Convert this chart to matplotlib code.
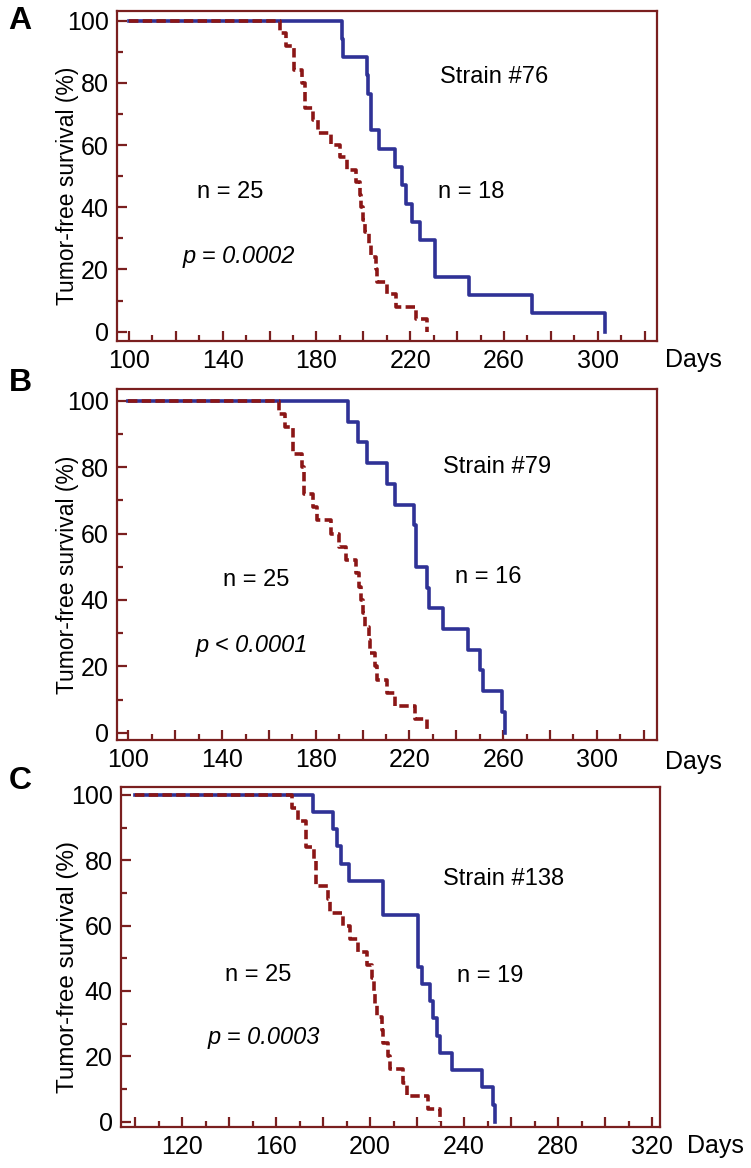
import matplotlib
matplotlib.use('Agg')
import matplotlib.pyplot as plt

plt.rcParams['font.family'] = ['Liberation Sans', 'DejaVu Sans']

# control group (n = 25), dashed red; event days and survival level after each step
ctrl_days = [164.4, 167, 170.4, 174, 175, 178.6, 180.7, 186.4, 190, 193, 197, 198.5,
             199.2, 200, 200.8, 202.5, 203.3, 205.3, 206, 210.3, 213.8, 222.3, 227.3]
ctrl_surv = [96, 92, 84, 80, 72, 68, 64, 60, 56, 52, 48, 44,
             40, 36, 32, 28, 24, 20, 16, 12, 8, 4, 0]
ctrl_days_c = [166.7, 169.5, 172.8, 176.3, 177, 182.3, 183, 188.6, 191.5, 195, 198.6, 200.7,
               201.5, 202.3, 203, 205, 205.7, 207.5, 208.5, 214.2, 215.6, 224.8, 229.8]

# strain curves, solid blue
s76_days = [190.7, 191.4, 201.4, 202.1, 203.2, 206.5, 213.7, 216.7, 218.1, 220.7,
            224.2, 230.6, 245, 271.8, 303.3]
s76_surv = [94.1, 88.2, 82.4, 76.5, 64.7, 58.8, 52.9, 47.1, 41.2, 35.3,
            29.4, 17.6, 11.8, 5.9, 0]
s79_days = [193.9, 197.9, 201.7, 210.2, 213.8, 222, 222.7, 227.5, 228.5, 234.4,
            245, 250, 251.5, 259.3, 261]
s79_surv = [93.75, 87.5, 81.25, 75, 68.75, 62.5, 50, 43.75, 37.5, 31.25,
            25, 18.75, 12.5, 6.25, 0]
s138_days = [175.9, 184.1, 185.8, 187.5, 191.2, 205.7, 220.5, 222, 225.5, 227,
             228.4, 229.8, 234.8, 247.5, 252.5, 253.2]
s138_surv = [94.7, 89.5, 84.2, 78.9, 73.7, 63.2, 47.4, 42.1, 36.8, 31.6,
             26.3, 21.05, 15.8, 10.5, 5.26, 0]

panels = ['A', 'B', 'C']
strain_names = ['Strain #76', 'Strain #79', 'Strain #138']
strain_n = ['n = 18', 'n = 16', 'n = 19']
p_texts = ['p = 0.0002', 'p < 0.0001', 'p = 0.0003']
xtick_labels = [[100, 140, 180, 220, 260, 300],
                [100, 140, 180, 220, 260, 300],
                [120, 160, 200, 240, 280, 320]]

blue = '#2f3296'
red = '#8b1616'
frame = '#7a1f1f'

W, H = 751, 1168
fig = plt.figure(figsize=(W / 100, H / 100), dpi=100)

# pixel boxes (left, top, right, bottom) and limits
boxes = [(117, 11, 657, 341), (117, 389, 657, 740), (121, 787, 660, 1127)]
xlims = [(94.9, 325.3), (95.1, 325.7), (94.0, 323.4)]
ylims = [(-3.0, 103.1), (-2.2, 103.6), (-1.6, 102.4)]
letter_y = [21, 383, 781]
days_xy = [(693, 360), (693, 762), (715, 1146)]
ylabel_size = [16.5, 16.5, 17.5]

# text positions (data coords)
strain_xy = [(256, 82), (257.6, 80), (257, 74.3)]
sn_xy = [(246, 45), (253.6, 47), (251, 44.7)]
cn_xy = [(143.4, 44.8), (154.6, 45.9), (152.3, 44.9)]
p_xy = [(147, 24.1), (152.6, 26.4), (154.6, 25.8)]

curves = [(s76_days, s76_surv, ctrl_days),
          (s79_days, s79_surv, ctrl_days),
          (s138_days, s138_surv, ctrl_days_c)]

for i in range(3):
    l, t, r, b = boxes[i]
    ax = fig.add_axes([l / W, 1 - b / H, (r - l) / W, (b - t) / H])
    sd, ss, cd = curves[i]
    ax.step([100] + sd, [100] + ss, where='post', color=blue, lw=2.6, zorder=2)
    ax.step([100] + cd, [100] + ctrl_surv, where='post', color=red, lw=2.6,
            dashes=(2.6, 1.2), zorder=3)
    ax.set_xlim(*xlims[i])
    ax.set_ylim(*ylims[i])

    for sp in ax.spines.values():
        sp.set_color(frame)
        sp.set_linewidth(1.6)

    xt = list(range(100, 321, 20))
    ax.set_xticks(xt)
    ax.set_xticklabels([str(v) if v in xtick_labels[i] else '' for v in xt])
    ax.set_xticks(list(range(110, 321, 20)), minor=True)
    ax.set_yticks([0, 20, 40, 60, 80, 100])
    ax.set_yticks([10, 30, 50, 70, 90], minor=True)
    ax.tick_params(which='both', direction='in', color=frame, width=1.6,
                   top=False, right=False, labelsize=18, labelcolor='black')
    ax.tick_params(which='major', length=7, pad=6)
    ax.tick_params(which='minor', length=4)

    ax.set_ylabel('Tumor-free survival (%)', fontsize=ylabel_size[i])
    ax.yaxis.set_label_coords((79 - l) / (r - l), 1 - (((t + b) / 2 + 10) - t) / (b - t))

    ax.text(*strain_xy[i], strain_names[i], fontsize=17, ha='center', va='center')
    ax.text(*sn_xy[i], strain_n[i], fontsize=17, ha='center', va='center')
    ax.text(*cn_xy[i], 'n = 25', fontsize=17, ha='center', va='center')
    ax.text(*p_xy[i], p_texts[i], fontsize=17, ha='center', va='center', style='italic')

    fig.text(20 / W, 1 - letter_y[i] / H, panels[i], fontsize=23, fontweight='bold',
             ha='center', va='center')
    dx, dy = days_xy[i]
    fig.text(dx / W, 1 - dy / H, 'Days', fontsize=18, ha='center', va='center')

fig.savefig('out.png', dpi=100)
